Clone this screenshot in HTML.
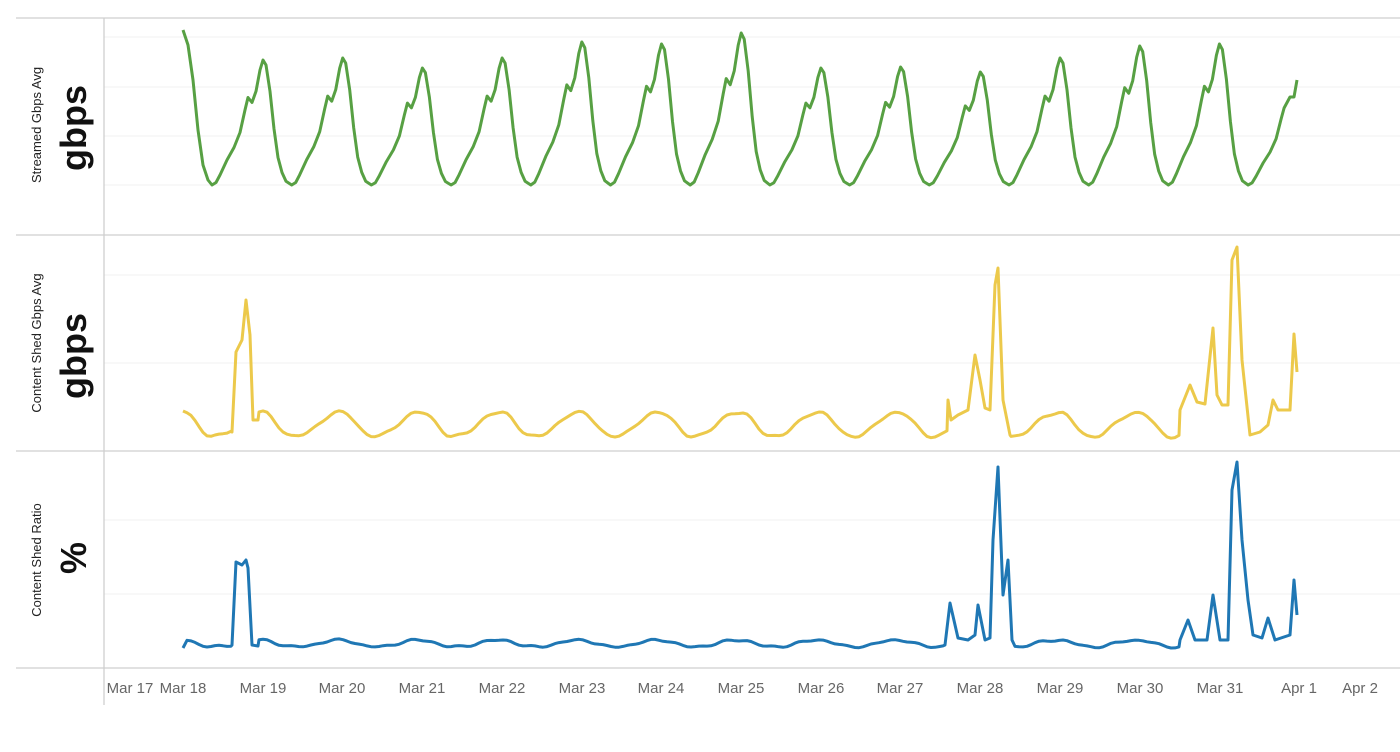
<!DOCTYPE html>
<html><head><meta charset="utf-8"><style>
body{margin:0;background:#fff;width:1400px;height:752px;overflow:hidden}
svg{display:block}
text{font-family:"Liberation Sans",sans-serif}
</style></head><body>
<svg id="s" width="1400" height="752" xmlns="http://www.w3.org/2000/svg">
<g stroke="#f0f0f0" stroke-width="1">
<line x1="104" x2="1400" y1="37" y2="37"/><line x1="104" x2="1400" y1="87" y2="87"/>
<line x1="104" x2="1400" y1="136" y2="136"/><line x1="104" x2="1400" y1="185" y2="185"/>
<line x1="104" x2="1400" y1="275" y2="275"/><line x1="104" x2="1400" y1="363" y2="363"/>
<line x1="104" x2="1400" y1="520" y2="520"/><line x1="104" x2="1400" y1="594" y2="594"/>
</g>
<g stroke="#cfcfcf" stroke-width="1.3">
<line x1="16" x2="1400" y1="18" y2="18"/><line x1="16" x2="1400" y1="235" y2="235"/>
<line x1="16" x2="1400" y1="451" y2="451"/><line x1="16" x2="1400" y1="668" y2="668"/>
<line x1="104" x2="104" y1="18" y2="705"/>
</g>
<g font-size="13" fill="#222">
<text transform="translate(41,125) rotate(-90)" text-anchor="middle">Streamed Gbps Avg</text>
<text transform="translate(41,343) rotate(-90)" text-anchor="middle">Content Shed Gbps Avg</text>
<text transform="translate(41,560) rotate(-90)" text-anchor="middle">Content Shed Ratio</text>
</g>
<g font-size="36" font-weight="bold" fill="#111">
<text transform="translate(86,128) rotate(-90)" text-anchor="middle">gbps</text>
<text transform="translate(86,356) rotate(-90)" text-anchor="middle">gbps</text>
<text transform="translate(86,558) rotate(-90)" text-anchor="middle">%</text>
</g>
<g font-size="15" fill="#666" text-anchor="middle" id="ticks"></g>
<polyline id="g" fill="none" stroke="#57a043" stroke-width="3" stroke-linejoin="round"/>
<polyline id="y" fill="none" stroke="#ecc94b" stroke-width="3" stroke-linejoin="round"/>
<polyline id="b" fill="none" stroke="#1f77b4" stroke-width="3" stroke-linejoin="round"/>
</svg>
<script>
var labs=[["Mar 17",130],["Mar 18",183],["Mar 19",263],["Mar 20",342],["Mar 21",422],["Mar 22",502],["Mar 23",582],["Mar 24",661],["Mar 25",741],["Mar 26",821],["Mar 27",900],["Mar 28",980],["Mar 29",1060],["Mar 30",1140],["Mar 31",1220],["Apr 1",1299],["Apr 2",1360]];
var t=document.getElementById('ticks'),h='';
labs.forEach(function(l){h+='<text x="'+l[1]+'" y="693">'+l[0]+'</text>'});t.innerHTML=h;
var peaks=[60,58,68,58,42,44,33,68,67,72,58,46,44,75];
var shape=[[0,0],[4,.02],[8,.08],[15,.2],[22,.3],[28,.42],[33,.6],[36,.7],[40,.66],[44,.75],[48,.92],[51,1],[54,.96],[58,.75],[62,.45],[66,.22],[70,.1],[74,.03]];
var pts=[[183,30],[188,45],[193,80],[198,130],[203,165],[208,180]];
for(var d=0;d<14;d++){var m=212+d*79.7;var a=185-peaks[d];
shape.forEach(function(s){var x=m+s[0];if(x<=1286)pts.push([x,185-a*s[1]])});}
pts.push([1290,97],[1294,97],[1297,80]);
document.getElementById('g').setAttribute('points',pts.map(function(p){return p[0].toFixed(1)+','+p[1].toFixed(1)}).join(' '));
function base(y0,amp,noise){var a=[];for(var x=183;x<=1297;x+=4){var ph=((x-212)/79.7)%1;if(ph<0)ph+=1;
var v=ph<0.65?ph/0.65:(1-ph)/0.35;v=0.5-0.5*Math.cos(Math.PI*v);a.push([x,y0-amp*v+noise*Math.sin(x*0.21)*Math.sin(x*0.05)]);}return a;}
function merge(b,sp){sp.forEach(function(s){var x0=s[0][0],x1=s[s.length-1][0];b=b.filter(function(p){return p[0]<x0||p[0]>x1});b=b.concat(s)});b.sort(function(a,c){return a[0]-c[0]});return b;}
var yb=base(437,25,2);
yb=merge(yb,[[[232,432],[236,352],[242,340],[246,300],[250,335],[253,420],[258,420]],
[[948,400],[951,420],[958,415],[968,410],[975,355],[980,380],[985,408],[990,410],[995,285],[998,268],[1003,400],[1010,435]],
[[1180,410],[1190,385],[1197,402],[1205,404],[1213,328],[1217,395],[1222,405],[1228,405],[1232,260],[1237,247],[1242,360],[1250,435],[1260,432],[1268,425],[1273,400],[1278,410],[1290,410],[1294,334],[1297,372]]]);
yb[0]=[183,411];
document.getElementById('y').setAttribute('points',yb.map(function(p){return p[0].toFixed(1)+','+p[1].toFixed(1)}).join(' '));
var bb=base(647,7,1.5);
bb=merge(bb,[[[232,645],[236,562],[242,565],[246,560],[248,568],[252,645],[258,646]],
[[945,645],[950,603],[958,638],[968,640],[975,635],[978,605],[985,640],[990,638],[993,540],[998,467],[1003,595],[1008,560],[1012,640]],
[[1180,640],[1188,620],[1195,640],[1207,640],[1213,595],[1220,640],[1228,640],[1232,490],[1237,462],[1242,540],[1248,600],[1253,635],[1262,638],[1268,618],[1275,640],[1290,635],[1294,580],[1297,615]]]);
bb[0]=[183,648];
document.getElementById('b').setAttribute('points',bb.map(function(p){return p[0].toFixed(1)+','+p[1].toFixed(1)}).join(' '));
</script>
</body></html>
